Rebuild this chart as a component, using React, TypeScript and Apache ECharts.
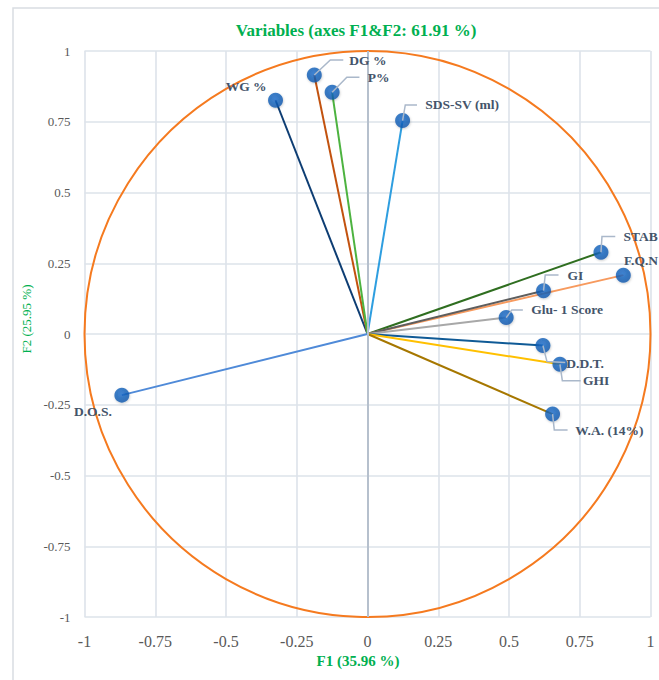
import React, { useEffect, useRef } from 'react';
import * as echarts from 'echarts';

// ---- data ----
const VARIABLES = ['WG %', 'DG %', 'P%', 'SDS-SV (ml)', 'STAB', 'F.Q.N', 'GI', 'Glu- 1 Score', 'D.D.T.', 'GHI', 'W.A. (14%)', 'D.O.S.'];
const F1 = [-0.325, -0.188, -0.125, 0.124, 0.825, 0.904, 0.622, 0.49, 0.62, 0.68, 0.654, -0.868];
const F2 = [0.826, 0.915, 0.854, 0.754, 0.289, 0.208, 0.153, 0.058, -0.041, -0.107, -0.283, -0.216];
const AXIS_MIN = -1;
const AXIS_MAX = 1;
const AXIS_STEP = 0.25;
const TITLE = 'Variables (axes F1&F2: 61.91 %)';
const X_NAME = 'F1 (35.96 %)';
const Y_NAME = 'F2 (25.95 %)';

// ---- styles ----
const LINE_COLORS = ['#0d3d73', '#c2520f', '#4db340', '#2e9ee0', '#2f6e20', '#f79a5e', '#5e5e5e', '#a8a8a8', '#0f5a96', '#ffc000', '#a67700', '#4f8ad8'];
// label layout: pixel offsets relative to the marker
const LABEL_LAYOUT: { leader?: number[][]; text: number[]; align: string }[] = [
  { text: [-9, -14], align: 'right' },
  { leader: [[0, 0], [16, -15], [29, -15]], text: [35, -15], align: 'left' },
  { leader: [[0, 0], [14.7, -15], [27.3, -15]], text: [35.7, -15], align: 'left' },
  { leader: [[0, 0], [2.7, -15.7], [14.4, -15.7]], text: [22.7, -15.7], align: 'left' },
  { leader: [[0, 0], [1, -15.6], [14.3, -15.6]], text: [22.6, -15.6], align: 'left' },
  { text: [0.7, -14.3], align: 'left' },
  { leader: [[0, 0], [1.7, -15.7], [15, -15.7]], text: [24, -15.7], align: 'left' },
  { leader: [[0, 0], [5.7, -7.7], [16.7, -7.7]], text: [25, -7.7], align: 'left' },
  { leader: [[0, 0], [4, 16], [22.3, 17]], text: [23.3, 17.6], align: 'left' },
  { leader: [[0, 0], [2.4, 16.4], [20.7, 16.4]], text: [23, 16.4], align: 'left' },
  { leader: [[0, 0], [1.7, 16], [15, 16]], text: [22.7, 16], align: 'left' },
  { text: [-29, 16.7], align: 'center' },
];
const SERIF = "'Liberation Serif', 'DejaVu Serif', serif";
const GREEN = '#00b050';

export default function App() {
  const ref = useRef<HTMLDivElement>(null);
  useEffect(() => {
    document.body.style.margin = '0';
    const chart = echarts.init(ref.current!, undefined, { renderer: 'svg' });
    const points = F1.map((x, i) => [x, F2[i]]);

    const vectorSeries = VARIABLES.map((name, i) => ({
      type: 'line',
      name,
      data: [[0, 0], points[i]],
      symbol: 'none',
      z: 3,
      lineStyle: { color: LINE_COLORS[i], width: 2 },
      silent: true,
    }));

    chart.setOption({
      animation: false,
      title: {
        text: TITLE,
        left: 351,
        top: 17,
        textAlign: 'center',
        textStyle: { color: GREEN, fontFamily: SERIF, fontWeight: 'bold', fontSize: 17 },
      },
      graphic: [
        {
          type: 'rect',
          shape: { x: 13, y: 8, width: 700, height: 720 },
          style: { fill: 'none', stroke: '#d9dde2', lineWidth: 1.5 },
          z: -10,
          silent: true,
        },
      ],
      grid: { left: 84.5, right: 8.5, top: 51, bottom: 63 },
      xAxis: {
        type: 'value',
        min: AXIS_MIN,
        max: AXIS_MAX,
        interval: AXIS_STEP,
        name: X_NAME,
        nameLocation: 'middle',
        nameGap: 34,
        nameTextStyle: { color: GREEN, fontFamily: SERIF, fontWeight: 'bold', fontSize: 15, padding: [0, 19, 0, 0] },
        axisLine: { show: false, onZero: false },
        axisTick: { show: false },
        axisLabel: { color: '#595959', fontFamily: SERIF, fontSize: 16, margin: 16 },
        splitLine: { lineStyle: { color: '#dde3ea', width: 1.6 } },
      },
      yAxis: {
        type: 'value',
        min: AXIS_MIN,
        max: AXIS_MAX,
        interval: AXIS_STEP,
        name: Y_NAME,
        nameLocation: 'middle',
        nameGap: 48,
        nameRotate: 90,
        nameTextStyle: { color: GREEN, fontFamily: SERIF, fontSize: 13, padding: [0, 0, 0, 30] },
        axisLine: { show: false, onZero: false },
        axisTick: { show: false },
        axisLabel: { color: '#595959', fontFamily: SERIF, fontSize: 13, margin: 14 },
        splitLine: { lineStyle: { color: '#dde3ea', width: 1.6 } },
      },
      series: [
        {
          type: 'custom',
          name: 'circle',
          coordinateSystem: 'cartesian2d',
          data: [[0, 0]],
          clip: false,
          silent: true,
          z: 2,
          renderItem: (_p: any, api: any) => {
            const c = api.coord([0, 0]);
            const r = api.size([1, 0])[0];
            return {
              type: 'circle',
              shape: { cx: c[0], cy: c[1], r },
              style: { fill: 'none', stroke: '#f57a1f', lineWidth: 2 },
            };
          },
          markLine: {
            silent: true,
            symbol: 'none',
            label: { show: false },
            lineStyle: { color: '#b6c0cd', width: 2, type: 'solid' },
            data: [{ xAxis: 0 }],
          },
        },
        ...vectorSeries,
        {
          type: 'scatter',
          name: 'variables',
          data: points,
          symbolSize: 15,
          z: 5,
          itemStyle: {
            color: {
              type: 'radial', x: 0.45, y: 0.4, r: 0.6,
              colorStops: [{ offset: 0, color: '#1a6dcc' }, { offset: 1, color: '#0c55ab' }],
            },
            shadowColor: 'rgba(0,0,0,0.25)',
            shadowBlur: 2,
            shadowOffsetX: 0.5,
            shadowOffsetY: 1,
          },
        },
        {
          type: 'custom',
          name: 'labels',
          coordinateSystem: 'cartesian2d',
          data: points,
          clip: false,
          silent: true,
          z: 6,
          renderItem: (params: any, api: any) => {
            const i = params.dataIndex;
            const p = api.coord([api.value(0), api.value(1)]);
            const L = LABEL_LAYOUT[i];
            const children: any[] = [];
            if (L.leader) {
              children.push({
                type: 'polyline',
                shape: { points: L.leader.map(([dx, dy]) => [p[0] + dx, p[1] + dy]) },
                style: { stroke: '#aab8ca', lineWidth: 1.5, fill: null },
              });
            }
            children.push({
              type: 'text',
              x: p[0] + L.text[0],
              y: p[1] + L.text[1],
              style: {
                text: VARIABLES[i],
                align: L.align,
                verticalAlign: 'middle',
                textAlign: L.align,
                textVerticalAlign: 'middle',
                fill: '#44546a',
                font: `bold 13.5px ${SERIF}`,
              },
            });
            return { type: 'group', children };
          },
        },
      ],
    });
    return () => chart.dispose();
  }, []);
  return <div ref={ref} style={{ width: 659, height: 680 }} />;
}
